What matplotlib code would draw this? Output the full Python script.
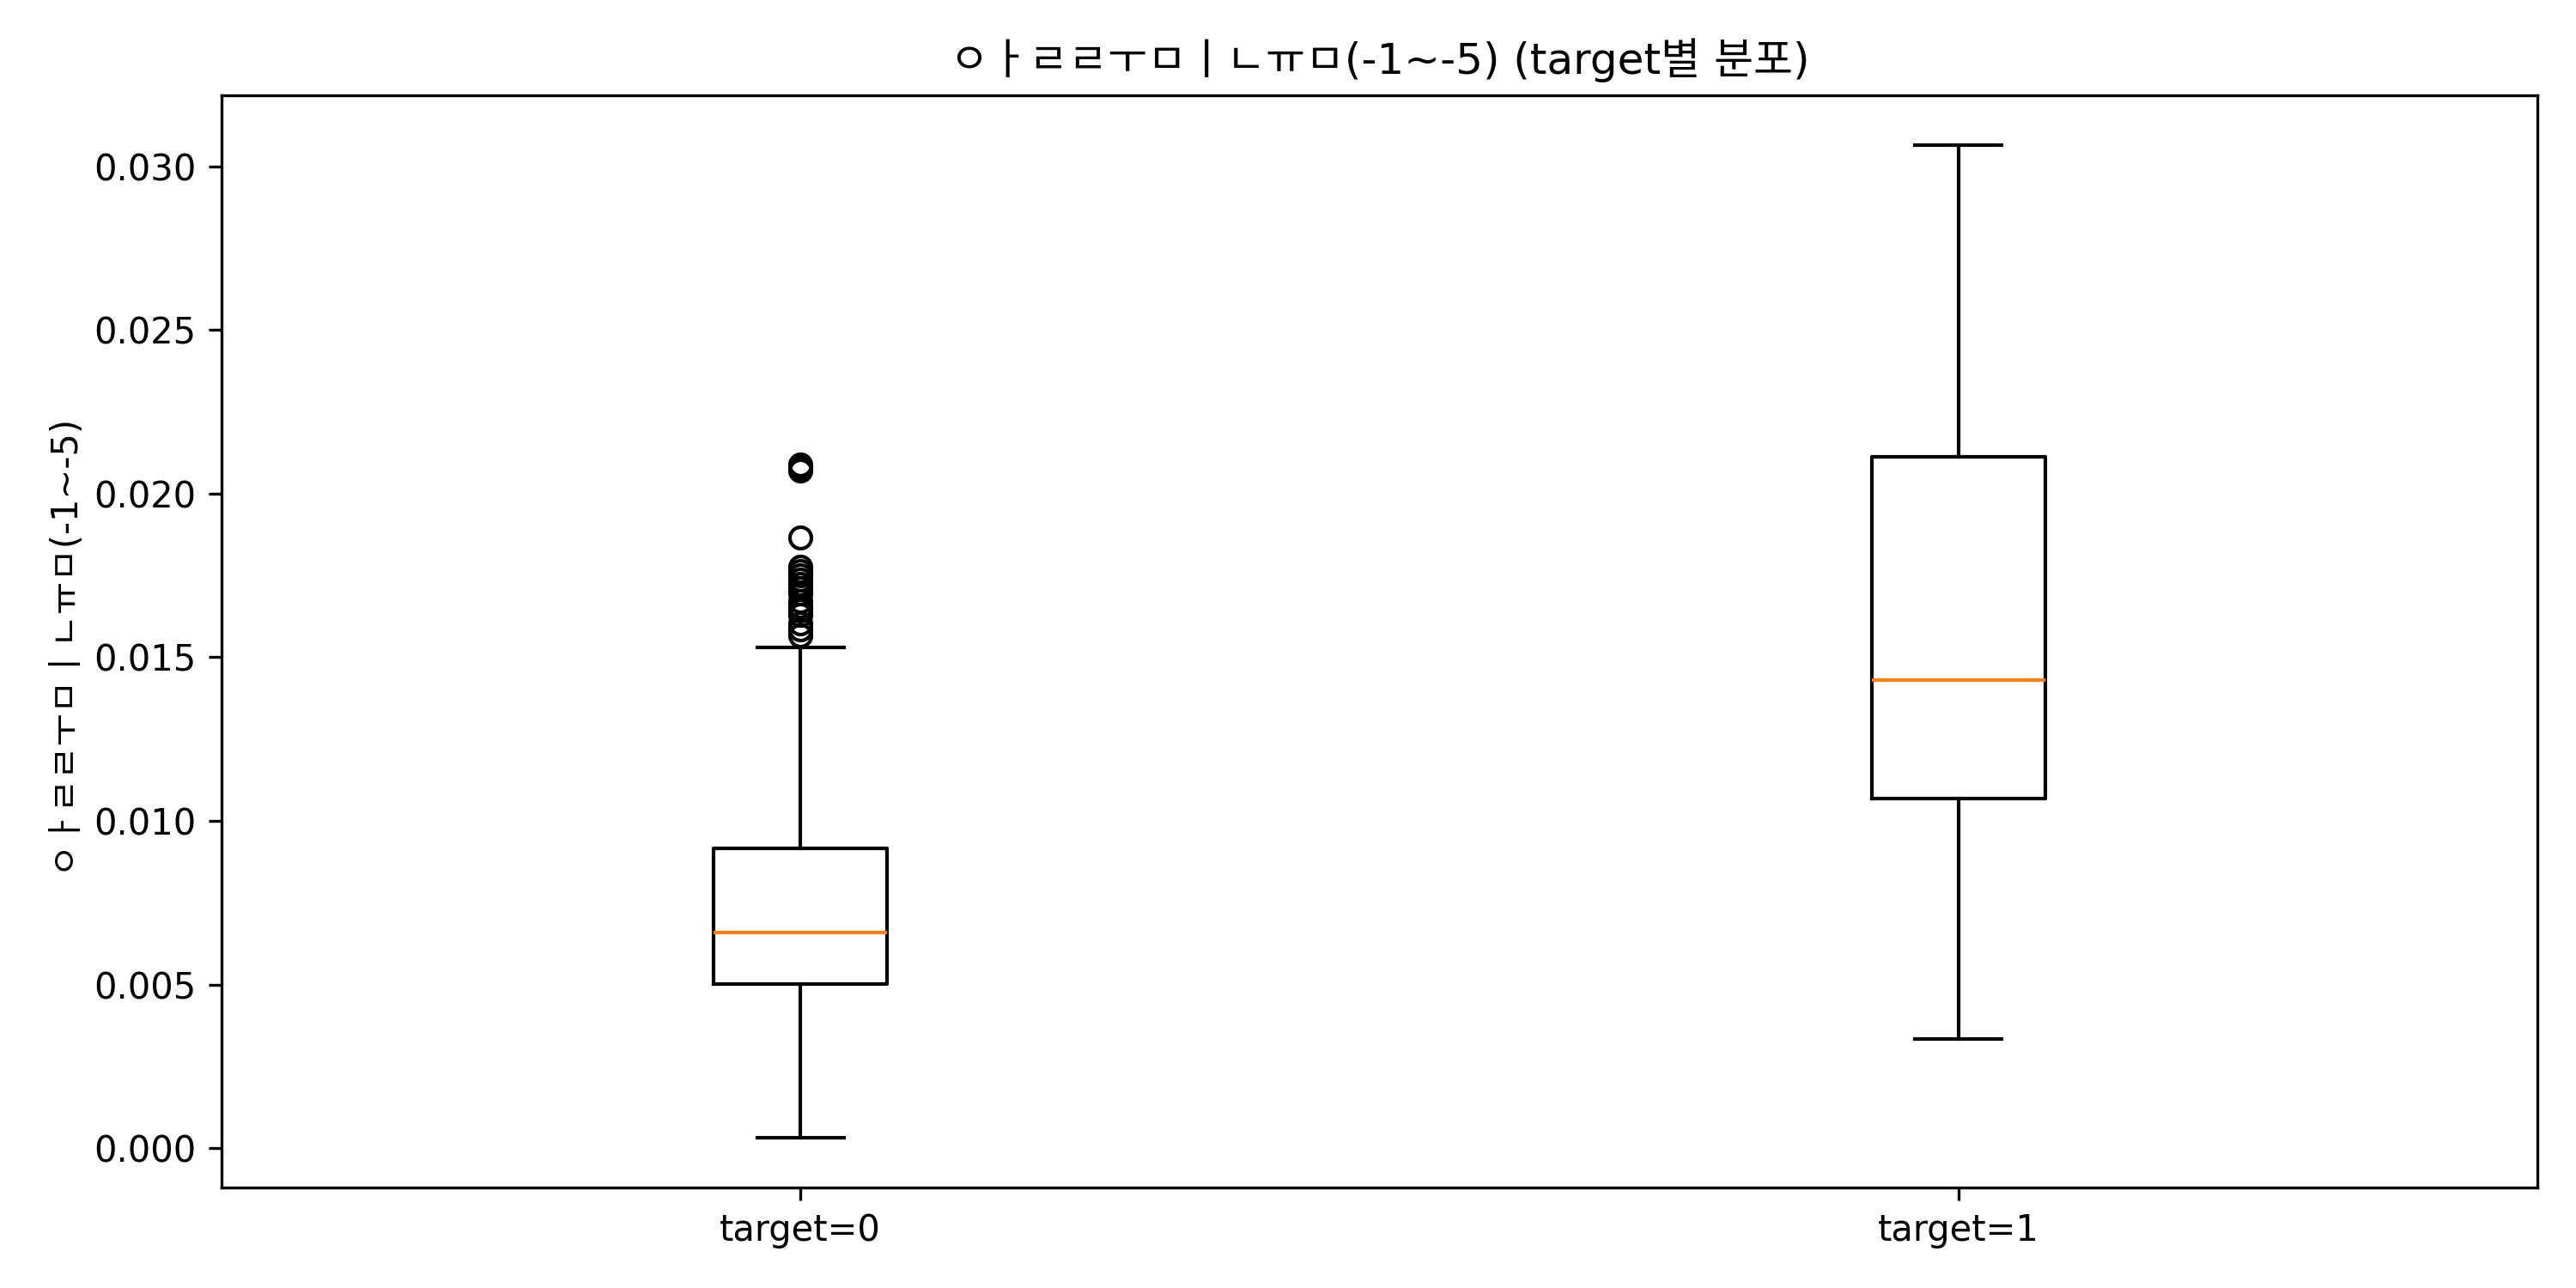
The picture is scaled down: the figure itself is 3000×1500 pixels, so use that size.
import matplotlib
matplotlib.use("Agg")
import matplotlib.pyplot as plt

plt.rcParams['font.family'] = ['DejaVu Sans', 'Noto Sans CJK KR']
plt.rcParams['axes.unicode_minus'] = False

labels = ["target=0", "target=1"]
whislo = [0.00032, 0.00333]
q1 = [0.00503, 0.01069]
med = [0.00660, 0.01430]
q3 = [0.00916, 0.02113]
whishi = [0.01531, 0.03065]
fliers0 = [0.0209, 0.0208, 0.0207, 0.01867, 0.01777, 0.01764, 0.01751, 0.01738,
           0.01725, 0.01710, 0.01695, 0.01673, 0.01655, 0.01642, 0.01629, 0.01603,
           0.01586, 0.01568]
fliers1 = []

title = "ㅇㅏㄹㄹㅜㅁㅣㄴㅠㅁ(-1~-5) (target별 분포)"
ylabel = "ㅇㅏㄹㄹㅜㅁㅣㄴㅠㅁ(-1~-5)"

stats = []
for i, lab in enumerate(labels):
    stats.append(dict(label=lab, whislo=whislo[i], q1=q1[i], med=med[i], q3=q3[i],
                      whishi=whishi[i], fliers=[fliers0, fliers1][i]))

fig, ax = plt.subplots(figsize=(10, 5), dpi=300)
ax.bxp(stats, widths=0.15)
ax.set_title(title)
ax.set_ylabel(ylabel)
fig.subplots_adjust(left=0.086, right=0.985, top=0.926, bottom=0.078)
fig.savefig("out.png")
